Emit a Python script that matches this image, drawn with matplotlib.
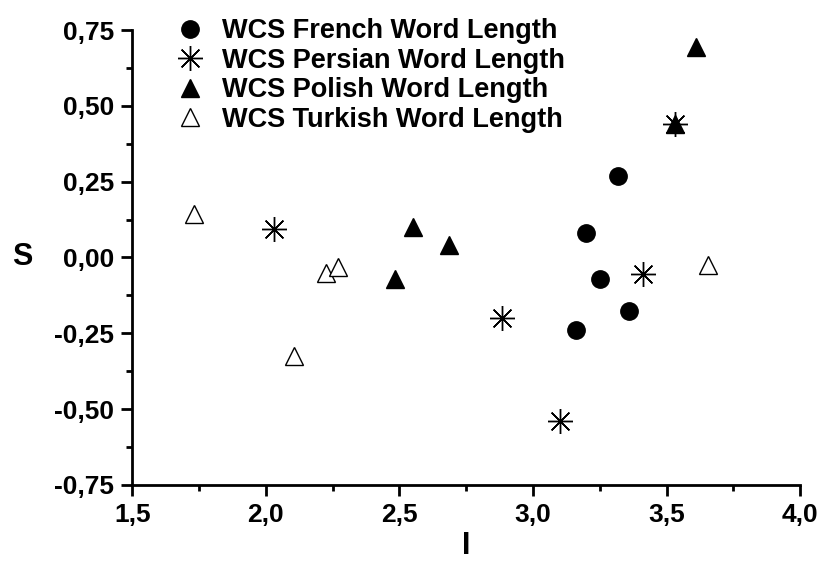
import matplotlib.pyplot as plt
from matplotlib.ticker import MultipleLocator, FuncFormatter

plt.rcParams['font.family'] = ['Liberation Sans', 'DejaVu Sans']
plt.rcParams['font.weight'] = 'bold'

# I / S values per language
french_i = [3.32, 3.20, 3.25, 3.16, 3.36]
french_s = [0.27, 0.08, -0.07, -0.24, -0.175]

persian_i = [2.03, 2.885, 3.10, 3.41, 3.53]
persian_s = [0.095, -0.20, -0.54, -0.055, 0.44]

polish_i = [3.61, 3.53, 2.55, 2.685, 2.485]
polish_s = [0.695, 0.44, 0.10, 0.04, -0.07]

turkish_i = [1.73, 2.225, 2.27, 2.105, 3.655]
turkish_s = [0.145, -0.05, -0.03, -0.325, -0.025]

fig = plt.figure(figsize=(8.37, 5.61), dpi=100)
ax = fig.add_axes([0.158, 0.1355, 0.798, 0.811])

ax.plot(french_i, french_s, 'o', color='black', markersize=12.5,
        linestyle='none', label='WCS French Word Length')
ax.plot(persian_i, persian_s, marker=(8, 2, 0), color='black', markersize=18,
        markeredgewidth=1.0, linestyle='none', label='WCS Persian Word Length')
ax.plot(polish_i, polish_s, '^', color='black', markersize=13,
        linestyle='none', label='WCS Polish Word Length')
ax.plot(turkish_i, turkish_s, '^', markerfacecolor='white', markeredgecolor='black',
        markersize=13, markeredgewidth=1.0, linestyle='none',
        label='WCS Turkish Word Length')

ax.set_xlim(1.5, 4.0)
ax.set_ylim(-0.75, 0.75)
ax.xaxis.set_major_locator(MultipleLocator(0.5))
ax.xaxis.set_minor_locator(MultipleLocator(0.25))
ax.yaxis.set_major_locator(MultipleLocator(0.25))
ax.yaxis.set_minor_locator(MultipleLocator(0.125))
ax.xaxis.set_major_formatter(FuncFormatter(lambda v, p: f'{v:.1f}'.replace('.', ',')))
ax.yaxis.set_major_formatter(FuncFormatter(lambda v, p: f'{v:.2f}'.replace('.', ',')))

for side in ['top', 'right']:
    ax.spines[side].set_visible(False)
for side in ['left', 'bottom']:
    ax.spines[side].set_linewidth(2)

ax.tick_params(which='major', direction='out', length=8, width=2, labelsize=19, pad=5)
ax.tick_params(which='minor', direction='out', length=4, width=2)

ax.set_xlabel('I', fontsize=22, fontweight='bold', labelpad=3)
ax.set_ylabel('S', fontsize=22, fontweight='bold', rotation=0, labelpad=23, va='center')

leg = ax.legend(loc='upper left', bbox_to_anchor=(0.052, 1.05), frameon=False,
                fontsize=19.5, handletextpad=0.75, labelspacing=0.13,
                handlelength=0.9, borderaxespad=0)
for t in leg.get_texts():
    t.set_fontweight('bold')

fig.savefig('out.png', dpi=100)
